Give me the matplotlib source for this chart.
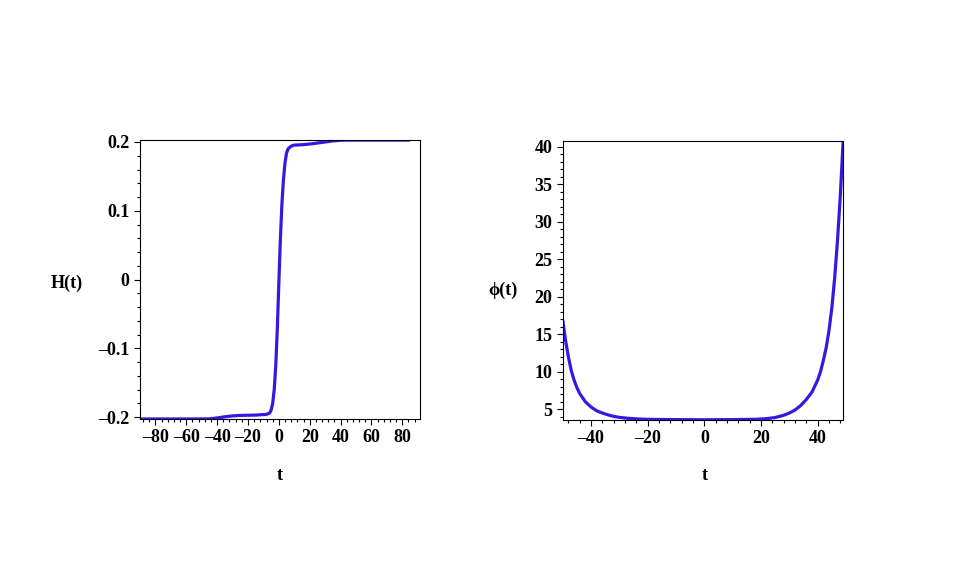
import matplotlib
matplotlib.use("Agg")
import matplotlib.pyplot as plt
from matplotlib.ticker import MultipleLocator, FuncFormatter

# ---- data ----
h_t = [-90, -60, -45, -40, -35, -30, -25, -15, -8, -6, -5, -4, -3, -2, -1, 0, 1, 2, 3, 4,
       5, 6, 8, 10, 15, 20, 25, 30, 35, 40, 45, 60, 85]
h_val = [-0.2027, -0.2027, -0.2025, -0.2012, -0.1995, -0.1982, -0.1975, -0.197, -0.196,
         -0.194, -0.190, -0.180, -0.160, -0.125, -0.072, -0.005, 0.059, 0.110, 0.146, 0.170,
         0.184, 0.190, 0.194, 0.1955, 0.196, 0.197, 0.1985, 0.2, 0.2015, 0.2025, 0.2027,
         0.2027, 0.2027]

phi_t = [-50, -49, -48, -47, -46, -45, -44, -42, -40, -38, -36, -34, -32, -30, -27, -24,
         -20, -10, 0, 10, 18, 22, 25, 28, 30, 32, 34, 36, 38, 40, 41, 42, 43, 44, 45,
         46, 47, 48, 49]
phi_val = [16.9, 14.2, 12.0, 10.2, 8.9, 7.9, 7.1, 6.0, 5.3, 4.8, 4.5, 4.25, 4.05, 3.92,
           3.8, 3.72, 3.66, 3.62, 3.6, 3.62, 3.66, 3.75, 3.9, 4.2, 4.5, 4.9, 5.5, 6.3,
           7.3, 8.9, 10.0, 11.5, 13.2, 15.5, 18.5, 22.5, 27.5, 33.5, 40.8]

h_xticks = [-80, -60, -40, -20, 0, 20, 40, 60, 80]
h_yticks = [-0.2, -0.1, 0, 0.1, 0.2]
phi_xticks = [-40, -20, 0, 20, 40]
phi_yticks = [5, 10, 15, 20, 25, 30, 35, 40]

line_color = "#3a16e0"
font = ["Liberation Serif", "DejaVu Serif"]

fig = plt.figure(figsize=(9.57, 5.61), dpi=100)
fig.patch.set_facecolor("white")


def style(ax):
    for s in ax.spines.values():
        s.set_linewidth(0.8)
        s.set_color("black")
    ax.tick_params(axis="both", which="major", direction="out", length=4.5, width=0.8,
                   labelsize=13, pad=3, top=False, right=False)
    ax.tick_params(axis="both", which="minor", direction="out", length=2.5, width=0.8,
                   top=False, right=False)
    for lab in ax.get_xticklabels() + ax.get_yticklabels():
        lab.set_fontfamily(font)
        lab.set_fontweight("bold")


def fmt_h(v, pos):
    if abs(v) < 1e-9:
        return "0"
    s = f"{v:.1f}"
    return s.replace("-", "\u2013")


def fmt_int(v, pos):
    s = f"{int(round(v))}"
    return s.replace("-", "\u2013")


# Left axes: H(t)
ax1 = fig.add_axes([140 / 957, 1 - 419 / 561, 280 / 957, 279 / 561])
ax1.plot(h_t, h_val, color=line_color, lw=2.3, solid_capstyle="butt")
ax1.set_xlim(-90, 91.5)
ax1.set_ylim(-0.2027, 0.2029)
ax1.set_xticks(h_xticks)
ax1.set_yticks(h_yticks)
ax1.xaxis.set_minor_locator(MultipleLocator(4))
ax1.yaxis.set_minor_locator(MultipleLocator(0.02))
ax1.xaxis.set_major_formatter(FuncFormatter(fmt_int))
ax1.yaxis.set_major_formatter(FuncFormatter(fmt_h))
style(ax1)

# Right axes: phi(t)
ax2 = fig.add_axes([562.7 / 957, 1 - 420 / 561, 280.6 / 957, 279.3 / 561])
ax2.plot(phi_t, phi_val, color=line_color, lw=2.3, solid_capstyle="butt")
ax2.set_xlim(-50, 49.05)
ax2.set_ylim(3.57, 40.8)
ax2.set_xticks(phi_xticks)
ax2.set_yticks(phi_yticks)
ax2.xaxis.set_minor_locator(MultipleLocator(4))
ax2.yaxis.set_minor_locator(MultipleLocator(1))
ax2.xaxis.set_major_formatter(FuncFormatter(fmt_int))
ax2.yaxis.set_major_formatter(FuncFormatter(fmt_int))
style(ax2)

# axis labels (Maple-style, horizontal)
lab_kw = dict(fontfamily=font, fontweight="bold", fontsize=13, ha="center", va="center")
fig.text(67 / 957, 1 - 283 / 561, "H(t)", **lab_kw)
fig.text(280 / 957, 1 - 476 / 561, "t", **lab_kw)
fig.text(503 / 957, 1 - 290 / 561, "\u03d5(t)", **lab_kw)
fig.text(705 / 957, 1 - 476 / 561, "t", **lab_kw)

fig.savefig("out.png", dpi=100, facecolor="white")
